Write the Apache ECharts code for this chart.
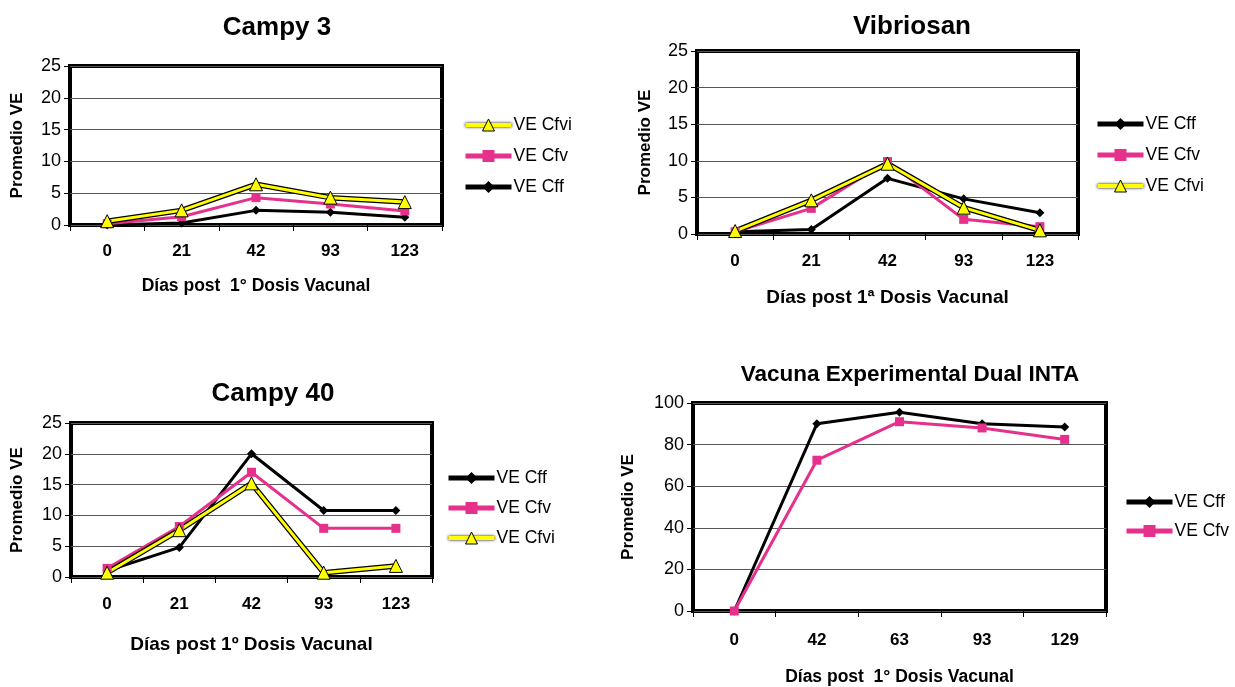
<!DOCTYPE html>
<html>
<head>
<meta charset="utf-8">
<script src="https://cdn.jsdelivr.net/npm/echarts@6/dist/echarts.min.js"></script>
<style>html,body{margin:0;padding:0;background:#fff}#c{width:1235px;height:687px}</style>
</head>
<body>
<div id="c"></div>
<script>
// ---- data ----
const titles = ['Campy 3', 'Vibriosan', 'Campy 40', 'Vacuna Experimental Dual INTA'];
const xNames = ['Días post  1° Dosis Vacunal', 'Días post 1ª Dosis Vacunal', 'Días post 1º Dosis Vacunal', 'Días post  1° Dosis Vacunal'];
const yName = 'Promedio VE';
const daysA = ['0', '21', '42', '93', '123'];
const daysB = ['0', '42', '63', '93', '129'];

const campy3Cff  = [0.0, 0.3, 2.3, 2.0, 1.2];
const campy3Cfv  = [0.2, 1.3, 4.3, 3.3, 2.2];
const campy3Cfvi = [0.6, 2.3, 6.4, 4.3, 3.6];

const vibrioCff  = [0.3, 0.6, 7.6, 4.8, 2.9];
const vibrioCfv  = [0.3, 3.5, 9.9, 2.0, 1.0];
const vibrioCfvi = [0.4, 4.6, 9.6, 3.6, 0.5];

const campy40Cff  = [1.0, 4.8, 20.0, 10.8, 10.8];
const campy40Cfv  = [1.4, 8.2, 17.0, 7.9, 7.9];
const campy40Cfvi = [0.7, 7.6, 15.2, 0.7, 1.8];

const dualCff = [0, 90, 95.5, 90, 88.5];
const dualCfv = [0, 72.5, 91, 88, 82.5];

// ---- layout ----
const FF = '"Liberation Sans", Arial, sans-serif';
const grids = [
  {left: 70, top: 66, width: 372, height: 159},
  {left: 697, top: 51, width: 381, height: 183},
  {left: 71, top: 423, width: 361, height: 154},
  {left: 693, top: 403, width: 413, height: 210}
];
const yMax = [25, 25, 25, 100];
const yInt = [5, 5, 5, 20];
const xCats = [daysA, daysA, daysA, daysB];
const labelMargin = [18, 19, 19, 21];
const xNameGap = [52, 54, 58, 57];
const xNameSize = [17.5, 19, 19, 17.5];
const yNameGap = [44, 43, 45, 56];
const titlePos = [[277, 28], [912, 27], [273, 394], [910, 375]];
const titleSize = [26, 26, 26, 22.5];
const legendPos = [[458, 111], [1090, 110], [441, 464], [1119, 488]];
const legendGap = [13, 13, 12, 11];

const BLACK = '#000000', PINK = '#E5318C', YELLOW = '#FFFF00';

const option = {
  animation: false,
  backgroundColor: '#ffffff',
  grid: grids.map(g => Object.assign({show: true, borderColor: BLACK, borderWidth: 4, backgroundColor: '#fff'}, g)),
  xAxis: grids.map((g, i) => ({
    type: 'category', gridIndex: i, data: xCats[i], boundaryGap: true,
    axisLine: {show: false},
    axisTick: {show: true, length: 6, lineStyle: {color: BLACK, width: 1}},
    axisLabel: {margin: labelMargin[i], fontSize: 17, fontWeight: 'bold', color: BLACK, fontFamily: FF},
    name: xNames[i], nameLocation: 'middle', nameGap: xNameGap[i],
    nameTextStyle: {fontSize: xNameSize[i], fontWeight: 'bold', color: BLACK, fontFamily: FF},
    splitLine: {show: false}
  })),
  yAxis: grids.map((g, i) => ({
    type: 'value', gridIndex: i, min: 0, max: yMax[i], interval: yInt[i],
    axisLine: {show: false},
    axisTick: {show: true, length: 6, lineStyle: {color: BLACK, width: 1}},
    axisLabel: {margin: 9, fontSize: 18, color: BLACK, fontFamily: FF},
    splitLine: {show: true, lineStyle: {color: '#555', width: 1}},
    name: yName, nameLocation: 'middle', nameGap: yNameGap[i],
    nameTextStyle: {fontSize: 17, fontWeight: 'bold', color: BLACK, fontFamily: FF}
  })),
  legend: [
    ['VE Cfvi', 'VE Cfv', 'VE Cff'],
    ['VE Cff', 'VE Cfv', 'VE Cfvi'],
    ['VE Cff', 'VE Cfv', 'VE Cfvi'],
    ['VE Cff', 'VE Cfv']
  ].map((names, i) => ({
    orient: 'vertical', left: legendPos[i][0], top: legendPos[i][1],
    itemWidth: 46, itemHeight: 15, itemGap: legendGap[i],
    lineStyle: {width: 5},
    textStyle: {fontSize: 17.5, color: BLACK, fontFamily: FF, padding: [0, 0, 0, -3]},
    data: names.map(n => n === 'VE Cfvi'
      ? {name: n, lineStyle: {color: YELLOW, width: 4, shadowColor: '#000', shadowBlur: 3},
         itemStyle: {color: YELLOW, borderColor: BLACK, borderWidth: 1}}
      : {name: n})
  })),
  graphic: titles.map((t, i) => ({
    type: 'text', x: titlePos[i][0], y: titlePos[i][1],
    style: {text: t, font: 'bold ' + titleSize[i] + 'px ' + FF, fill: BLACK, textAlign: 'center', textVerticalAlign: 'middle'}
  })),
  series: []
};

function addCff(i, data) {
  option.series.push({type: 'line', name: 'VE Cff', xAxisIndex: i, yAxisIndex: i, data: data,
    symbol: 'diamond', symbolSize: 9, lineStyle: {color: BLACK, width: 3},
    itemStyle: {color: BLACK}, z: 3});
}
function addCfv(i, data) {
  option.series.push({type: 'line', name: 'VE Cfv', xAxisIndex: i, yAxisIndex: i, data: data,
    symbol: 'rect', symbolSize: 9, lineStyle: {color: PINK, width: 3},
    itemStyle: {color: PINK}, z: 3});
}
function addCfvi(i, data) {
  option.series.push({type: 'line', name: 'outline' + i, xAxisIndex: i, yAxisIndex: i, data: data,
    symbol: 'none', lineStyle: {color: BLACK, width: 5.5}, silent: true, z: 3});
  option.series.push({type: 'line', name: 'VE Cfvi', xAxisIndex: i, yAxisIndex: i, data: data,
    symbol: 'triangle', symbolSize: 13, lineStyle: {color: YELLOW, width: 3},
    itemStyle: {color: YELLOW, borderColor: BLACK, borderWidth: 1}, z: 3});
}

addCff(0, campy3Cff); addCfv(0, campy3Cfv); addCfvi(0, campy3Cfvi);
addCff(1, vibrioCff); addCfv(1, vibrioCfv); addCfvi(1, vibrioCfvi);
addCff(2, campy40Cff); addCfv(2, campy40Cfv); addCfvi(2, campy40Cfvi);
addCff(3, dualCff); addCfv(3, dualCfv);

const chart = echarts.init(document.getElementById('c'), null, {renderer: 'canvas'});
chart.setOption(option);
</script>
</body>
</html>
